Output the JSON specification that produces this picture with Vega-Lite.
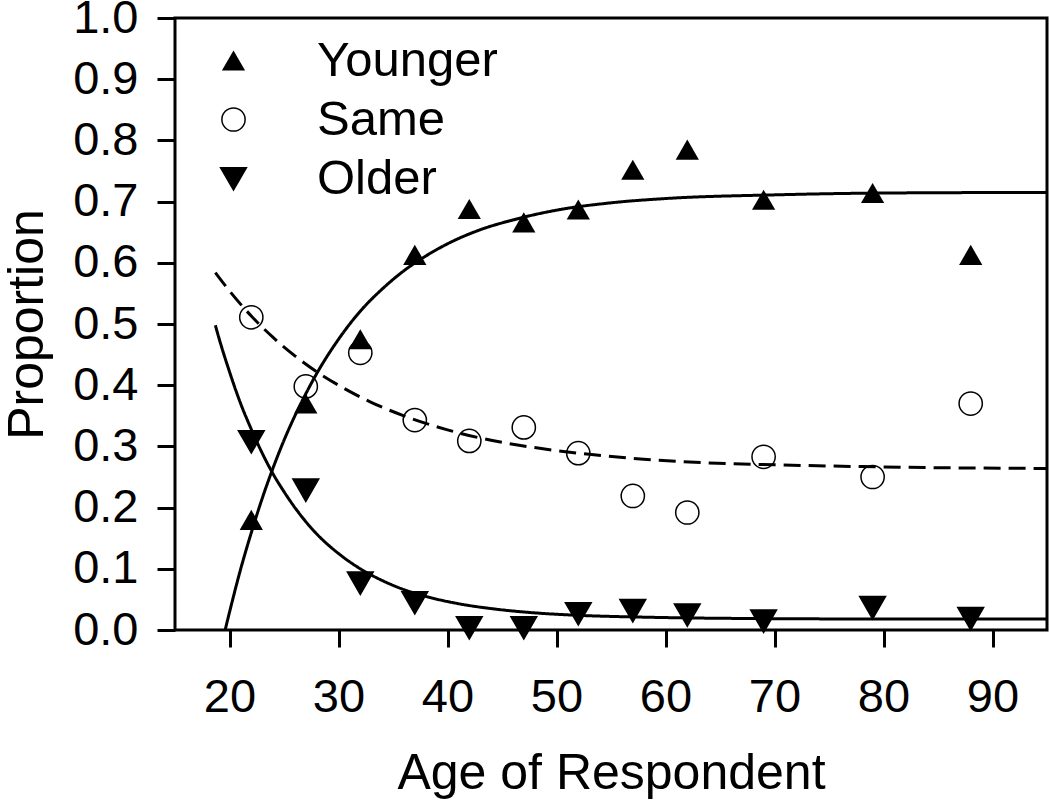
{
  "$schema": "https://vega.github.io/schema/vega-lite/v6.json",
  "width": 872,
  "height": 612,
  "autosize": {"type": "none"},
  "padding": {"left": 175, "top": 18, "right": 3, "bottom": 171},
  "background": "white",
  "config": {
    "font": "Liberation Sans",
    "view": {"stroke": "black", "strokeWidth": 3},
    "axis": {
      "grid": false,
      "domain": false,
      "tickColor": "black",
      "tickWidth": 3,
      "labelColor": "black",
      "titleColor": "black",
      "labelFont": "Liberation Sans",
      "titleFont": "Liberation Sans",
      "labelFontSize": 47,
      "titleFontSize": 50,
      "titleFontWeight": "normal"
    }
  },
  "datasets": {
    "points": [
      {"age": 22, "proportion": 0.18, "group": "Younger"},
      {"age": 27, "proportion": 0.37, "group": "Younger"},
      {"age": 32, "proportion": 0.475, "group": "Younger"},
      {"age": 37, "proportion": 0.613, "group": "Younger"},
      {"age": 42, "proportion": 0.688, "group": "Younger"},
      {"age": 47, "proportion": 0.666, "group": "Younger"},
      {"age": 52, "proportion": 0.687, "group": "Younger"},
      {"age": 57, "proportion": 0.752, "group": "Younger"},
      {"age": 62, "proportion": 0.785, "group": "Younger"},
      {"age": 69, "proportion": 0.703, "group": "Younger"},
      {"age": 79, "proportion": 0.714, "group": "Younger"},
      {"age": 88, "proportion": 0.613, "group": "Younger"},
      {"age": 22, "proportion": 0.511, "group": "Same"},
      {"age": 27, "proportion": 0.398, "group": "Same"},
      {"age": 32, "proportion": 0.453, "group": "Same"},
      {"age": 37, "proportion": 0.343, "group": "Same"},
      {"age": 42, "proportion": 0.309, "group": "Same"},
      {"age": 47, "proportion": 0.331, "group": "Same"},
      {"age": 52, "proportion": 0.289, "group": "Same"},
      {"age": 57, "proportion": 0.219, "group": "Same"},
      {"age": 62, "proportion": 0.192, "group": "Same"},
      {"age": 69, "proportion": 0.283, "group": "Same"},
      {"age": 79, "proportion": 0.25, "group": "Same"},
      {"age": 88, "proportion": 0.37, "group": "Same"},
      {"age": 22, "proportion": 0.308, "group": "Older"},
      {"age": 27, "proportion": 0.229, "group": "Older"},
      {"age": 32, "proportion": 0.077, "group": "Older"},
      {"age": 37, "proportion": 0.045, "group": "Older"},
      {"age": 42, "proportion": 0.004, "group": "Older"},
      {"age": 47, "proportion": 0.004, "group": "Older"},
      {"age": 52, "proportion": 0.027, "group": "Older"},
      {"age": 57, "proportion": 0.032, "group": "Older"},
      {"age": 62, "proportion": 0.025, "group": "Older"},
      {"age": 69, "proportion": 0.015, "group": "Older"},
      {"age": 79, "proportion": 0.037, "group": "Older"},
      {"age": 88, "proportion": 0.019, "group": "Older"}
    ],
    "curves": [
      {"age": 19.6, "proportion": 0.0, "curve": "Younger fit"},
      {"age": 20, "proportion": 0.029, "curve": "Younger fit"},
      {"age": 21, "proportion": 0.098, "curve": "Younger fit"},
      {"age": 22, "proportion": 0.159, "curve": "Younger fit"},
      {"age": 23, "proportion": 0.215, "curve": "Younger fit"},
      {"age": 24, "proportion": 0.265, "curve": "Younger fit"},
      {"age": 25, "proportion": 0.31, "curve": "Younger fit"},
      {"age": 26, "proportion": 0.35, "curve": "Younger fit"},
      {"age": 27, "proportion": 0.386, "curve": "Younger fit"},
      {"age": 28, "proportion": 0.419, "curve": "Younger fit"},
      {"age": 30, "proportion": 0.475, "curve": "Younger fit"},
      {"age": 32, "proportion": 0.521, "curve": "Younger fit"},
      {"age": 34, "proportion": 0.557, "curve": "Younger fit"},
      {"age": 36, "proportion": 0.587, "curve": "Younger fit"},
      {"age": 38, "proportion": 0.611, "curve": "Younger fit"},
      {"age": 40, "proportion": 0.631, "curve": "Younger fit"},
      {"age": 43, "proportion": 0.654, "curve": "Younger fit"},
      {"age": 46, "proportion": 0.67, "curve": "Younger fit"},
      {"age": 50, "proportion": 0.686, "curve": "Younger fit"},
      {"age": 55, "proportion": 0.698, "curve": "Younger fit"},
      {"age": 60, "proportion": 0.705, "curve": "Younger fit"},
      {"age": 70, "proportion": 0.711, "curve": "Younger fit"},
      {"age": 80, "proportion": 0.714, "curve": "Younger fit"},
      {"age": 95, "proportion": 0.715, "curve": "Younger fit"},
      {"age": 18.7, "proportion": 0.584, "curve": "Same fit"},
      {"age": 20, "proportion": 0.554, "curve": "Same fit"},
      {"age": 22, "proportion": 0.513, "curve": "Same fit"},
      {"age": 24, "proportion": 0.478, "curve": "Same fit"},
      {"age": 26, "proportion": 0.448, "curve": "Same fit"},
      {"age": 28, "proportion": 0.422, "curve": "Same fit"},
      {"age": 30, "proportion": 0.4, "curve": "Same fit"},
      {"age": 33, "proportion": 0.372, "curve": "Same fit"},
      {"age": 36, "proportion": 0.35, "curve": "Same fit"},
      {"age": 40, "proportion": 0.327, "curve": "Same fit"},
      {"age": 44, "proportion": 0.31, "curve": "Same fit"},
      {"age": 48, "proportion": 0.298, "curve": "Same fit"},
      {"age": 53, "proportion": 0.287, "curve": "Same fit"},
      {"age": 58, "proportion": 0.279, "curve": "Same fit"},
      {"age": 64, "proportion": 0.273, "curve": "Same fit"},
      {"age": 70, "proportion": 0.27, "curve": "Same fit"},
      {"age": 78, "proportion": 0.267, "curve": "Same fit"},
      {"age": 86, "proportion": 0.265, "curve": "Same fit"},
      {"age": 95, "proportion": 0.264, "curve": "Same fit"},
      {"age": 18.7, "proportion": 0.498, "curve": "Older fit"},
      {"age": 19, "proportion": 0.479, "curve": "Older fit"},
      {"age": 20, "proportion": 0.422, "curve": "Older fit"},
      {"age": 21, "proportion": 0.371, "curve": "Older fit"},
      {"age": 22, "proportion": 0.328, "curve": "Older fit"},
      {"age": 23, "proportion": 0.289, "curve": "Older fit"},
      {"age": 24, "proportion": 0.255, "curve": "Older fit"},
      {"age": 25, "proportion": 0.226, "curve": "Older fit"},
      {"age": 26, "proportion": 0.2, "curve": "Older fit"},
      {"age": 27, "proportion": 0.177, "curve": "Older fit"},
      {"age": 28, "proportion": 0.157, "curve": "Older fit"},
      {"age": 30, "proportion": 0.125, "curve": "Older fit"},
      {"age": 32, "proportion": 0.1, "curve": "Older fit"},
      {"age": 34, "proportion": 0.081, "curve": "Older fit"},
      {"age": 36, "proportion": 0.066, "curve": "Older fit"},
      {"age": 38, "proportion": 0.055, "curve": "Older fit"},
      {"age": 41, "proportion": 0.043, "curve": "Older fit"},
      {"age": 44, "proportion": 0.035, "curve": "Older fit"},
      {"age": 48, "proportion": 0.028, "curve": "Older fit"},
      {"age": 52, "proportion": 0.024, "curve": "Older fit"},
      {"age": 58, "proportion": 0.021, "curve": "Older fit"},
      {"age": 66, "proportion": 0.019, "curve": "Older fit"},
      {"age": 80, "proportion": 0.018, "curve": "Older fit"},
      {"age": 95, "proportion": 0.018, "curve": "Older fit"}
    ]
  },
  "layer": [
    {
      "data": {"name": "curves"},
      "mark": {"type": "line", "stroke": "black", "strokeWidth": 3, "interpolate": "monotone", "clip": true},
      "encoding": {
        "x": {"field": "age", "type": "quantitative", "scale": {"domain": [15, 95], "nice": false, "zero": false},
          "axis": {"values": [20, 30, 40, 50, 60, 70, 80, 90], "title": "Age of Respondent", "tickSize": 17, "labelPadding": 27, "titlePadding": 28}},
        "y": {"field": "proportion", "type": "quantitative", "scale": {"domain": [0, 1], "nice": false},
          "axis": {"values": [0, 0.1, 0.2, 0.3, 0.4, 0.5, 0.6, 0.7, 0.8, 0.9, 1.0], "format": ".1f", "title": "Proportion", "tickSize": 18, "labelPadding": 19, "titlePadding": 20}},
        "detail": {"field": "curve"},
        "strokeDash": {"field": "curve", "type": "nominal", "scale": {"domain": ["Younger fit", "Same fit", "Older fit"], "range": [[1, 0], [17, 8], [1, 0]]}, "legend": null}
      }
    },
    {
      "data": {"name": "points"},
      "mark": {"type": "point", "filled": true, "stroke": "black", "size": 540, "opacity": 1},
      "encoding": {
        "x": {"field": "age", "type": "quantitative"},
        "y": {"field": "proportion", "type": "quantitative"},
        "shape": {"field": "group", "type": "nominal", "scale": {"domain": ["Younger", "Same", "Older"], "range": ["triangle-up", "circle", "triangle-down"]},
          "legend": {"title": null, "orient": "none", "legendX": 34, "legendY": 18, "padding": 0, "labelFontSize": 49, "labelColor": "black", "labelFont": "Liberation Sans", "labelLimit": 0, "labelOffset": 59, "rowPadding": 9, "symbolSize": 540,
            "encode": {"symbols": {"update": {"size": {"value": 540}, "stroke": {"value": "black"}, "strokeWidth": {"signal": "datum.value === 'Same' ? 3 : 0"}}}}}},
        "fill": {"field": "group", "type": "nominal", "scale": {"domain": ["Younger", "Same", "Older"], "range": ["black", "transparent", "black"]},
          "legend": {"title": null, "orient": "none", "legendX": 34, "legendY": 18, "padding": 0, "labelFontSize": 49, "labelColor": "black", "labelFont": "Liberation Sans", "labelLimit": 0, "labelOffset": 59, "rowPadding": 9, "symbolSize": 540,
            "encode": {"symbols": {"update": {"size": {"value": 540}, "stroke": {"value": "black"}, "strokeWidth": {"signal": "datum.value === 'Same' ? 3 : 0"}}}}}},
        "strokeWidth": {"field": "group", "type": "nominal", "scale": {"domain": ["Younger", "Same", "Older"], "range": [0, 3, 0]}, "legend": null}
      }
    }
  ]
}
